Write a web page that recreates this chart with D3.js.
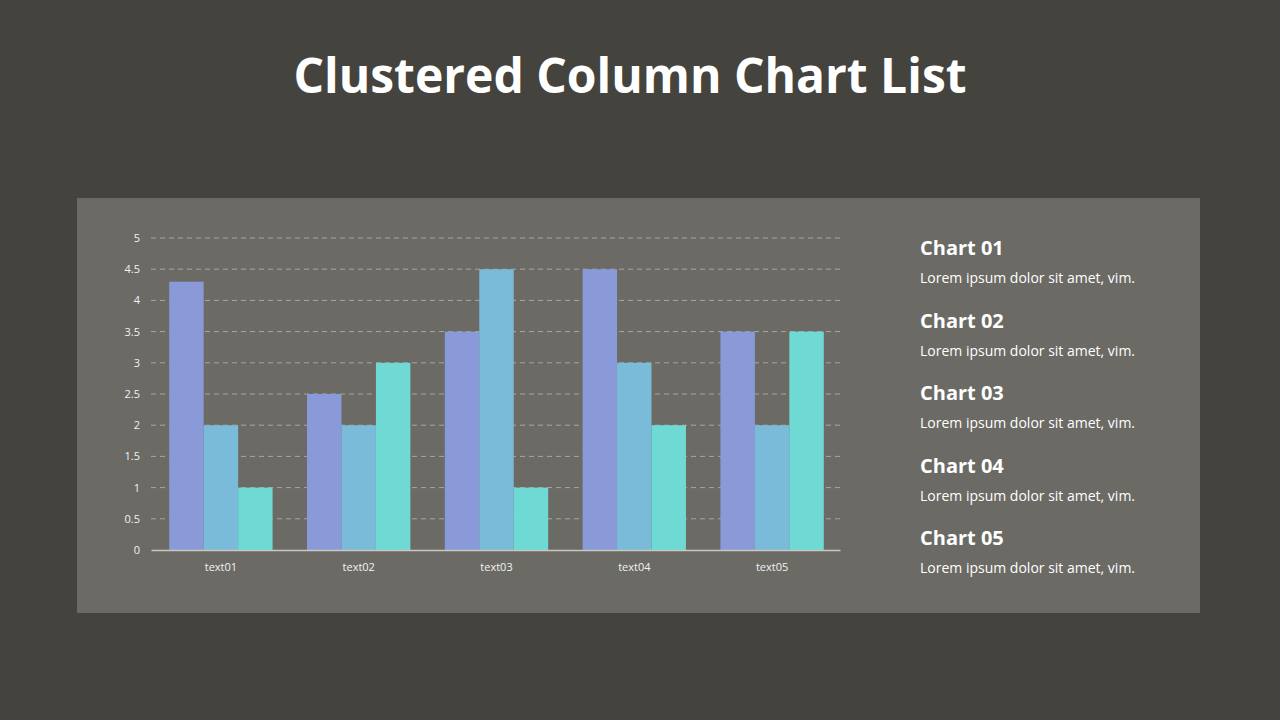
<!DOCTYPE html>
<html>
<head>
<meta charset="utf-8">
<script src="https://cdn.jsdelivr.net/npm/d3@7"></script>
<style>
  html, body { margin: 0; padding: 0; background: #45433e; }
  svg { display: block; }
</style>
</head>
<body>
<div id="chart"></div>
<script>
// chart values
var categories = ["text01", "text02", "text03", "text04", "text05"];
var seriesNames = ["Series 1", "Series 2", "Series 3"];
var series1 = [4.3, 2.5, 3.5, 4.5, 3.5];
var series2 = [2, 2, 4.5, 3, 2];
var series3 = [1, 3, 1, 2, 3.5];
var yTicks = [0, 0.5, 1, 1.5, 2, 2.5, 3, 3.5, 4, 4.5, 5];
var legendTitles = ["Chart 01", "Chart 02", "Chart 03", "Chart 04", "Chart 05"];
var legendTexts = ["Lorem ipsum dolor sit amet, vim.", "Lorem ipsum dolor sit amet, vim.",
  "Lorem ipsum dolor sit amet, vim.", "Lorem ipsum dolor sit amet, vim.", "Lorem ipsum dolor sit amet, vim."];
var colors = ["#8a9ad9", "#79bbd8", "#6fd9d3"];

var svg = d3.select("#chart")
  .append("svg")
  .attr("width", 1280)
  .attr("height", 720);

svg.append("rect")
  .attr("width", 1280)
  .attr("height", 720)
  .style("fill", "#45433e");

svg.append("text")
  .attr("x", 630)
  .attr("y", 93)
  .style("text-anchor", "middle")
  .style("font-family", "'Open Sans', sans-serif")
  .style("font-weight", "bold")
  .style("font-size", "48px")
  .style("fill", "#ffffff")
  .text("Clustered Column Chart List");

// panel
svg.append("rect")
  .attr("x", 77)
  .attr("y", 198)
  .attr("width", 1123)
  .attr("height", 415)
  .style("fill", "#6b6a65");

var plotLeft = 152, plotRight = 841, plotTop = 238, plotBottom = 550;

var x0 = d3.scaleBand()
  .domain(categories)
  .range([plotLeft, plotRight])
  .paddingInner(0.25)
  .paddingOuter(0.125);

var x1 = d3.scaleBand()
  .domain(seriesNames)
  .range([0, x0.bandwidth()]);

var y = d3.scaleLinear()
  .domain([0, 5])
  .range([plotBottom, plotTop]);

// gridlines
svg.append("g")
  .selectAll("line")
  .data(yTicks.filter(function(d) { return d > 0; }))
  .enter().append("line")
  .attr("x1", plotLeft - 1)
  .attr("x2", plotRight - 1)
  .attr("y1", function(d) { return y(d); })
  .attr("y2", function(d) { return y(d); })
  .style("stroke", "#a7a6a1")
  .style("stroke-width", 1)
  .style("stroke-dasharray", "5,4");

var rows = categories.map(function(c, i) {
  return { cat: c, vals: [series1[i], series2[i], series3[i]] };
});

var groups = svg.append("g")
  .selectAll("g")
  .data(rows)
  .enter().append("g")
  .attr("transform", function(d) { return "translate(" + x0(d.cat) + ",0)"; });

groups.selectAll("rect")
  .data(function(d) { return d.vals; })
  .enter().append("rect")
  .attr("x", function(d, i) { return x1(seriesNames[i]); })
  .attr("y", function(d) { return y(d); })
  .attr("width", x1.bandwidth())
  .attr("height", function(d) { return plotBottom - y(d); })
  .style("fill", function(d, i) { return colors[i]; });

// axes
var yAxis = svg.append("g")
  .attr("transform", "translate(" + (plotLeft - 12) + ",0)")
  .call(d3.axisLeft(y).tickValues(yTicks).tickFormat(d3.format("~g")).tickSize(0).tickPadding(0));
yAxis.select(".domain").remove();
yAxis.selectAll("text")
  .style("font-family", "'Open Sans', sans-serif")
  .style("font-size", "11px")
  .style("fill", "#f2f2f2");

var xAxis = svg.append("g")
  .attr("transform", "translate(0," + plotBottom + ")")
  .call(d3.axisBottom(x0).tickSize(0).tickPadding(13));
xAxis.select(".domain")
  .attr("transform", "translate(-1,0)")
  .style("stroke", "#c8c7c2")
  .style("stroke-width", 1.5);
xAxis.selectAll("text")
  .style("font-family", "'Open Sans', sans-serif")
  .style("font-size", "11px")
  .style("fill", "#f2f2f2");

// legend list
var legend = svg.append("g")
  .selectAll("g")
  .data(legendTitles)
  .enter().append("g")
  .attr("transform", function(d, i) { return "translate(920," + (255 + i * 72.5) + ")"; });

legend.append("text")
  .style("font-family", "'Open Sans', sans-serif")
  .style("font-weight", "bold")
  .style("font-size", "20px")
  .style("fill", "#ffffff")
  .text(function(d) { return d; });

legend.append("text")
  .attr("y", 28)
  .style("font-family", "'Open Sans', sans-serif")
  .style("font-size", "14px")
  .style("fill", "#ffffff")
  .text(function(d, i) { return legendTexts[i]; });
</script>
</body>
</html>
